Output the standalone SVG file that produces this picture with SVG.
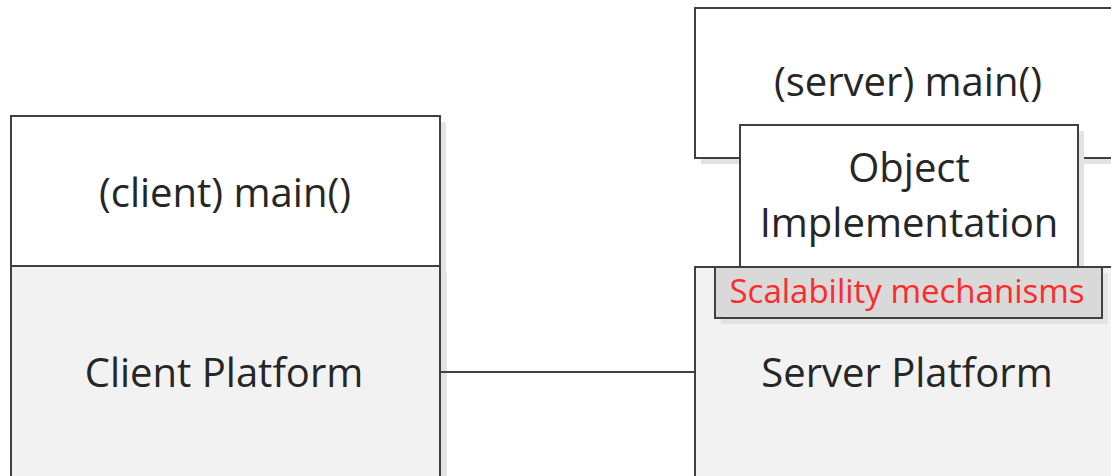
<svg xmlns="http://www.w3.org/2000/svg" width="1111" height="476" viewBox="0 0 1111 476">
  <style>
    .box { stroke: #404040; stroke-width: 2; }
    .white { fill: #ffffff; }
    .plat { fill: #f2f2f2; }
    .scal { fill: #d9d9d9; }
    .shadow { fill: #e3e3e3; }
    .lbl { font-family: "Open Sans", "Noto Sans", sans-serif; font-size: 40px; fill: #262626; text-anchor: middle; }
    .red { font-family: "Open Sans", "Noto Sans", sans-serif; font-size: 33px; fill: #ff2a2a; text-anchor: middle; }
    .conn { stroke: #404040; stroke-width: 2; fill: none; }
  </style>
  <rect width="1111" height="476" fill="#ffffff"/>

  <g id="client-main">
    <rect class="shadow" x="17" y="122" width="429" height="150"/>
    <rect class="box white" x="11" y="116" width="429" height="150"/>
    <text class="lbl" x="225" y="207">(client) main()</text>
  </g>

  <g id="client-platform">
    <rect class="shadow" x="441" y="272" width="6" height="210"/>
    <rect class="box plat" x="11" y="266" width="429" height="220"/>
    <text class="lbl" x="224" y="387">Client Platform</text>
  </g>

  <g id="server-main">
    <rect class="shadow" x="701" y="14" width="430" height="150"/>
    <rect class="box white" x="695" y="8" width="430" height="150"/>
    <text class="lbl" x="908" y="96">(server) main()</text>
  </g>

  <g id="server-platform">
    <rect class="box plat" x="695" y="267" width="430" height="220"/>
    <text class="lbl" x="907" y="387">Server Platform</text>
  </g>

  <g id="object-implementation">
    <rect class="shadow" x="746" y="131" width="338" height="142"/>
    <rect class="box white" x="740" y="125" width="338" height="142"/>
    <text class="lbl" x="909" y="182">Object</text>
    <text class="lbl" x="909" y="237">Implementation</text>
  </g>

  <g id="scalability-mechanisms">
    <rect class="shadow" x="721" y="273" width="387" height="51"/>
    <rect class="box scal" x="715" y="267" width="387" height="51"/>
    <text class="red" x="907" y="303">Scalability mechanisms</text>
  </g>

  <g id="connectors">
    <line class="conn" x1="440" y1="372" x2="695" y2="372"/>
  </g>
</svg>
